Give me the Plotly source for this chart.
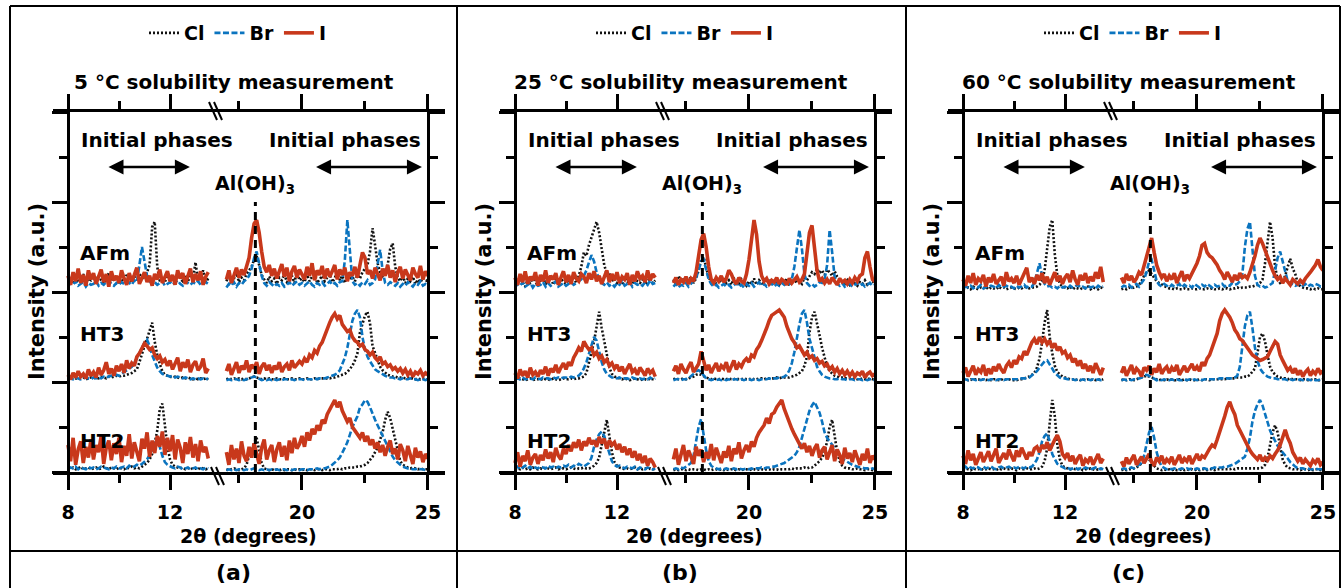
import numpy as np
import plotly.graph_objects as go

W, H = 1343, 588

# scan grids (2θ, degrees) for the two halves of the broken axis
two_theta_low = np.round(np.arange(8.0, 13.55, 0.1), 1)
two_theta_high = np.round(np.arange(17.0, 25.05, 0.1), 1)

panel_titles = ["5 °C solubility measurement", "25 °C solubility measurement", "60 °C solubility measurement"]
panel_letters = ["(a)", "(b)", "(c)"]
phases = ["AFm", "HT3", "HT2"]
phase_offsets = [2, 1, 0]
anions = ["Cl", "Br", "I"]

# ---------------- 5 °C ----------------
a_afm_cl_low = [12, 16, 9, 18, 11, 14, 20, 10, 15, 13, 17, 11, 19, 13, 9, 16, 21, 12, 14, 18,
                10, 15, 12, 19, 14, 11, 17, 13, 20, 16, 14, 22, 30, 72, 78, 28, 12, 16, 11, 19,
                13, 17, 10, 22, 15, 12, 18, 11, 20, 14, 33, 12, 16, 24, 11, 15]
a_afm_br_low = [6, 10, 8, 12, 7, 9, 11, 6, 10, 8, 9, 12, 7, 10, 8, 11, 13, 9, 7, 10,
                8, 11, 9, 12, 10, 8, 13, 11, 30, 50, 34, 18, 12, 9, 11, 8, 10, 12, 7, 9,
                11, 8, 10, 13, 9, 7, 12, 10, 8, 11, 9, 12, 8, 10, 11, 9]
a_afm_i_low = [18, 8, 22, 12, 26, 10, 19, 7, 24, 14, 21, 9, 17, 25, 11, 20, 6, 23, 13, 18,
               10, 24, 15, 8, 21, 12, 19, 27, 9, 16, 22, 11, 18, 7, 20, 14, 25, 10, 17, 23,
               12, 19, 8, 24, 15, 21, 9, 18, 26, 11, 20, 13, 23, 8, 17, 22]
a_afm_cl_high = [12, 18, 9, 15, 21, 11, 16, 13, 20, 24, 28, 36, 40, 30, 19, 14, 10, 17, 12, 15,
                 9, 16, 13, 20, 11, 14, 18, 10, 24, 13, 15, 11, 19, 12, 17, 22, 10, 14, 18, 12,
                 16, 20, 11, 15, 24, 13, 18, 10, 21, 14, 17, 12, 19, 15, 22, 26, 30, 45, 71, 52,
                 32, 22, 18, 24, 30, 48, 54, 28, 16, 12, 18, 10, 15, 12, 17, 9, 14, 11, 16, 13, 12]
a_afm_br_high = [5, 9, 7, 11, 6, 10, 8, 12, 14, 18, 26, 38, 45, 32, 18, 10, 7, 11, 8, 6,
                 9, 7, 10, 6, 8, 11, 7, 9, 12, 8, 10, 7, 9, 12, 8, 6, 10, 8, 11, 7,
                 9, 12, 8, 10, 7, 11, 12, 35, 80, 45, 12, 8, 10, 7, 11, 9, 13, 8, 10, 14,
                 30, 47, 24, 10, 8, 11, 9, 7, 10, 6, 9, 7, 11, 8, 6, 10, 8, 12, 7, 9, 8]
a_afm_i_high = [14, 24, 10, 20, 27, 16, 25, 19, 30, 38, 60, 76, 80, 66, 45, 28, 22, 30, 18, 26,
                15, 24, 31, 17, 27, 12, 23, 29, 16, 25, 20, 14, 28, 18, 32, 13, 24, 19, 29, 15,
                26, 17, 23, 30, 14, 25, 19, 27, 12, 22, 18, 28, 16, 30, 44, 38, 20, 24, 15, 27,
                21, 13, 26, 18, 30, 16, 24, 11, 22, 28, 15, 25, 19, 13, 27, 20, 16, 29, 14, 23, 18]

a_ht3_cl_low = [4, 3, 5, 4, 3, 4, 5, 3, 4, 5, 4, 5, 4, 6, 5, 4, 6, 5, 6, 7,
                6, 7, 7, 8, 9, 10, 12, 14, 22, 32, 40, 48, 58, 66, 45, 30, 20, 12, 8, 7,
                6, 5, 6, 5, 4, 5, 4, 5, 4, 3, 4, 3, 4, 3, 4, 3]
a_ht3_br_low = [3, 4, 3, 5, 4, 3, 4, 5, 4, 3, 5, 4, 5, 4, 6, 5, 6, 7, 6, 8,
                7, 9, 10, 12, 14, 17, 21, 26, 32, 38, 44, 47, 40, 30, 22, 16, 12, 9, 8, 7,
                6, 7, 5, 6, 5, 4, 5, 4, 3, 4, 3, 4, 3, 4, 3, 4]
a_ht3_i_low = [8, 3, 10, 5, 12, 6, 9, 4, 14, 7, 11, 5, 16, 8, 13, 22, 9, 15, 7, 18,
               12, 20, 10, 24, 15, 21, 18, 28, 32, 38, 43, 40, 36, 38, 30, 26, 29, 22, 25, 18,
               24, 14, 20, 27, 12, 22, 16, 25, 11, 19, 23, 13, 17, 26, 10, 15]
a_ht3_cl_high = [3, 4, 3, 4, 3, 4, 3, 4, 3, 4, 5, 6, 5, 4, 3, 4, 3, 4, 3, 3,
                 4, 3, 3, 4, 3, 3, 4, 3, 3, 4, 3, 3, 4, 3, 3, 4, 3, 4, 4, 4,
                 4, 4, 5, 5, 6, 7, 8, 9, 11, 14, 18, 24, 32, 55, 66, 74, 78, 65, 40, 33,
                 26, 17, 13, 10, 8, 7, 6, 6, 5, 5, 5, 4, 5, 4, 4, 3, 4, 3, 4, 3, 3]
a_ht3_br_high = [2, 3, 2, 3, 3, 2, 3, 2, 3, 4, 5, 6, 5, 3, 2, 3, 2, 3, 2, 3,
                 2, 3, 2, 3, 3, 2, 3, 2, 3, 3, 3, 2, 3, 3, 3, 4, 3, 4, 4, 4,
                 5, 6, 7, 8, 10, 13, 20, 27, 38, 55, 68, 76, 80, 72, 50, 36, 28, 23, 18, 14,
                 12, 10, 8, 7, 6, 5, 5, 4, 4, 3, 4, 3, 3, 4, 3, 3, 2, 3, 3, 2, 3]
a_ht3_i_high = [12, 20, 8, 16, 22, 10, 18, 14, 24, 11, 19, 15, 22, 9, 17, 21, 13, 19, 10, 18,
                14, 22, 11, 17, 20, 13, 24, 16, 19, 23, 20, 26, 22, 30, 27, 35, 32, 40, 44, 52,
                58, 66, 72, 76, 70, 74, 64, 60, 56, 58, 50, 46, 44, 40, 42, 36, 34, 30, 33, 27,
                24, 28, 20, 22, 17, 19, 14, 16, 12, 15, 10, 14, 8, 12, 6, 11, 9, 13, 7, 10, 8]

a_ht2_cl_low = [4, 3, 5, 3, 4, 6, 3, 4, 5, 3, 4, 5, 3, 4, 6, 4, 3, 5, 4, 3,
                5, 4, 3, 5, 4, 6, 4, 5, 4, 6, 8, 10, 14, 20, 32, 46, 70, 76, 52, 28,
                14, 8, 6, 5, 4, 5, 3, 4, 5, 3, 4, 3, 5, 4, 3, 4]
a_ht2_br_low = [3, 5, 4, 6, 3, 5, 4, 3, 6, 4, 5, 3, 4, 6, 5, 4, 3, 5, 4, 6,
                4, 5, 6, 4, 7, 5, 6, 8, 7, 9, 11, 14, 19, 26, 32, 35, 28, 18, 11, 8,
                6, 5, 4, 6, 5, 3, 4, 5, 3, 4, 5, 3, 4, 3, 5, 4]
a_ht2_i_low = [30, 12, 38, 8, 25, 34, 10, 28, 16, 36, 14, 30, 22, 40, 9, 27, 35, 13, 32, 20,
               38, 11, 29, 18, 42, 15, 33, 24, 12, 37, 26, 44, 17, 35, 21, 40, 28, 45, 19, 38,
               23, 41, 14, 36, 27, 10, 33, 20, 39, 16, 31, 12, 35, 22, 28, 15]
a_ht2_cl_high = [3, 2, 3, 4, 3, 2, 3, 4, 8, 18, 22, 32, 38, 24, 10, 4, 3, 2, 3, 2,
                 3, 2, 3, 2, 3, 3, 2, 3, 2, 3, 2, 3, 2, 3, 3, 2, 3, 3, 2, 3,
                 3, 2, 3, 3, 3, 4, 3, 4, 4, 5, 5, 5, 6, 6, 7, 8, 10, 13, 17, 22,
                 27, 36, 44, 58, 67, 60, 48, 35, 22, 12, 8, 6, 5, 4, 5, 4, 3, 4, 3, 3, 3]
a_ht2_br_high = [2, 3, 2, 3, 2, 3, 3, 2, 3, 2, 3, 4, 3, 2, 3, 2, 3, 2, 3, 2,
                 3, 2, 3, 3, 2, 3, 2, 3, 3, 2, 3, 3, 2, 3, 3, 3, 4, 3, 4, 4,
                 5, 6, 8, 10, 13, 16, 21, 27, 33, 42, 50, 56, 62, 72, 75, 80, 78, 72, 64, 58,
                 52, 46, 40, 34, 28, 22, 17, 13, 10, 8, 6, 5, 4, 4, 3, 3, 4, 3, 3, 2, 3]
a_ht2_i_high = [22, 8, 30, 14, 26, 10, 34, 18, 12, 28, 16, 32, 20, 9, 27, 36, 14, 24, 30, 11,
                25, 33, 17, 29, 13, 35, 21, 38, 26, 31, 40, 28, 44, 35, 48, 42, 52, 46, 58, 54,
                64, 70, 76, 80, 72, 78, 68, 62, 56, 60, 50, 46, 42, 38, 44, 34, 40, 30, 36, 26,
                33, 22, 30, 18, 28, 35, 20, 26, 14, 31, 24, 12, 29, 18, 9, 27, 16, 23, 11, 20, 15]

# ---------------- 25 °C ----------------
b_afm_cl_low = [12, 8, 15, 10, 6, 14, 9, 17, 11, 7, 13, 16, 9, 12, 18, 8, 14, 10, 15, 11,
                9, 14, 12, 17, 10, 18, 28, 44, 40, 52, 60, 69, 78, 66, 46, 30, 20, 22, 12, 15,
                10, 14, 8, 16, 11, 13, 9, 15, 12, 10, 14, 8, 12, 16, 10, 13]
b_afm_br_low = [5, 9, 7, 11, 6, 8, 10, 5, 9, 7, 8, 11, 6, 10, 7, 9, 12, 6, 8, 10,
                7, 9, 11, 8, 10, 12, 14, 18, 24, 33, 41, 34, 22, 14, 10, 8, 11, 7, 9, 6,
                10, 8, 12, 7, 9, 11, 6, 10, 8, 9, 7, 11, 8, 13, 9, 10]
b_afm_i_low = [16, 8, 20, 11, 23, 9, 17, 13, 22, 7, 19, 12, 24, 10, 18, 14, 21, 8, 16, 23,
               11, 19, 9, 22, 15, 12, 20, 17, 10, 21, 14, 23, 12, 18, 9, 16, 24, 11, 20, 13,
               22, 10, 17, 14, 21, 8, 19, 12, 23, 15, 18, 11, 24, 13, 20, 16]
b_afm_cl_high = [14, 8, 18, 11, 16, 9, 13, 17, 10, 15, 24, 36, 39, 28, 16, 12, 15, 9, 14, 11,
                 16, 10, 13, 8, 15, 12, 9, 14, 11, 7, 12, 9, 15, 8, 13, 10, 7, 11, 14, 9,
                 10, 13, 8, 12, 9, 15, 7, 11, 14, 10, 12, 9, 16, 13, 18, 22, 20, 26, 21, 24,
                 19, 25, 22, 18, 23, 17, 14, 12, 9, 13, 8, 12, 10, 7, 11, 9, 13, 8, 10, 12, 9]
b_afm_br_high = [6, 9, 5, 8, 7, 10, 6, 9, 12, 16, 24, 34, 36, 26, 14, 9, 6, 8, 5, 7,
                 9, 6, 8, 5, 7, 10, 6, 8, 5, 9, 7, 10, 6, 8, 11, 7, 9, 6, 8, 10,
                 6, 9, 7, 10, 8, 11, 9, 14, 28, 52, 69, 48, 20, 10, 7, 9, 6, 8, 11, 10,
                 14, 30, 69, 44, 16, 9, 7, 10, 6, 8, 9, 6, 8, 10, 7, 9, 6, 8, 10, 7, 8]
b_afm_i_high = [10, 16, 8, 14, 11, 17, 9, 15, 12, 22, 40, 58, 65, 50, 28, 14, 10, 16, 12, 18,
                11, 15, 24, 20, 13, 9, 16, 12, 10, 20, 36, 60, 80, 64, 34, 18, 12, 15, 9, 13,
                11, 16, 9, 14, 12, 8, 15, 10, 13, 17, 11, 14, 20, 42, 66, 74, 44, 24, 12, 15,
                10, 14, 9, 16, 12, 8, 15, 11, 13, 9, 14, 10, 16, 12, 18, 20, 38, 45, 28, 14, 12]

b_ht3_cl_low = [3, 2, 4, 3, 2, 3, 4, 2, 3, 3, 2, 4, 3, 3, 2, 4, 3, 2, 3, 4,
                3, 3, 4, 3, 4, 4, 5, 6, 10, 20, 33, 45, 60, 78, 60, 44, 28, 16, 9, 6,
                5, 4, 3, 4, 3, 2, 3, 4, 3, 2, 3, 3, 2, 4, 3, 3]
b_ht3_br_low = [3, 4, 3, 5, 3, 4, 4, 3, 5, 4, 3, 5, 4, 4, 3, 5, 4, 5, 4, 5,
                5, 4, 6, 5, 6, 7, 10, 15, 22, 32, 42, 50, 46, 34, 22, 14, 9, 7, 5, 5,
                4, 5, 3, 4, 4, 3, 5, 4, 3, 4, 3, 4, 3, 5, 3, 4]
b_ht3_i_low = [10, 4, 14, 7, 12, 5, 16, 8, 11, 6, 13, 9, 17, 7, 15, 11, 19, 10, 16, 21,
               14, 22, 18, 27, 32, 38, 34, 45, 40, 36, 38, 30, 33, 26, 29, 22, 25, 18, 21, 15,
               19, 12, 17, 9, 15, 20, 11, 14, 8, 16, 12, 7, 15, 10, 13, 6]
b_ht3_cl_high = [3, 4, 3, 3, 4, 3, 4, 5, 6, 8, 9, 8, 6, 5, 4, 3, 4, 3, 3, 4,
                 3, 3, 4, 3, 3, 4, 3, 3, 4, 3, 3, 4, 3, 3, 4, 4, 3, 4, 4, 4,
                 4, 5, 4, 5, 5, 5, 5, 6, 7, 8, 10, 12, 18, 28, 55, 72, 78, 66, 52, 38,
                 26, 17, 12, 9, 7, 6, 5, 5, 4, 4, 4, 3, 4, 3, 3, 4, 3, 3, 4, 3, 3]
b_ht3_br_high = [2, 3, 3, 2, 3, 3, 4, 6, 9, 12, 13, 11, 7, 4, 3, 2, 3, 2, 3, 2,
                 3, 2, 3, 2, 3, 3, 2, 3, 2, 3, 3, 2, 3, 3, 2, 3, 3, 3, 4, 3,
                 4, 4, 5, 5, 6, 8, 13, 21, 33, 50, 64, 76, 80, 66, 48, 38, 26, 17, 12, 8,
                 6, 5, 4, 4, 3, 3, 4, 3, 3, 2, 3, 3, 2, 3, 3, 2, 3, 2, 3, 3, 2]
b_ht3_i_high = [12, 18, 9, 20, 14, 10, 17, 22, 11, 16, 20, 34, 24, 13, 19, 10, 16, 21, 12, 18,
                15, 22, 11, 19, 24, 14, 20, 17, 23, 26, 22, 30, 28, 36, 40, 46, 52, 60, 68, 74,
                76, 78, 80, 76, 72, 62, 54, 48, 44, 38, 40, 34, 30, 33, 27, 29, 24, 26, 21, 23,
                18, 20, 14, 17, 11, 15, 9, 13, 8, 12, 7, 11, 6, 10, 8, 12, 5, 9, 11, 7, 9]

b_ht2_cl_low = [3, 4, 3, 5, 3, 4, 3, 5, 4, 3, 4, 3, 5, 4, 3, 4, 5, 3, 4, 4,
                3, 4, 5, 4, 3, 4, 4, 5, 4, 4, 5, 7, 10, 16, 30, 46, 58, 40, 22, 11,
                7, 5, 4, 3, 4, 3, 4, 5, 3, 4, 3, 4, 3, 4, 3, 3]
b_ht2_br_low = [4, 6, 3, 5, 7, 4, 6, 3, 5, 4, 6, 5, 4, 7, 5, 6, 4, 6, 5, 7,
                6, 8, 5, 7, 6, 9, 7, 6, 8, 10, 16, 28, 36, 42, 45, 40, 30, 20, 12, 8,
                6, 7, 5, 4, 6, 5, 4, 6, 3, 5, 4, 3, 5, 4, 3, 4]
b_ht2_i_low = [10, 22, 6, 18, 12, 24, 8, 16, 20, 9, 19, 13, 25, 15, 22, 11, 27, 18, 14, 26,
               20, 30, 23, 33, 27, 36, 24, 34, 29, 38, 31, 35, 28, 39, 32, 37, 26, 35, 30, 33,
               25, 31, 22, 28, 19, 26, 16, 23, 13, 20, 10, 18, 7, 15, 11, 5]
b_ht2_cl_high = [2, 3, 2, 3, 3, 2, 3, 2, 3, 3, 2, 3, 3, 2, 3, 2, 3, 3, 2, 3,
                 2, 3, 2, 3, 3, 2, 3, 2, 3, 3, 2, 3, 3, 2, 3, 3, 2, 3, 3, 2,
                 3, 3, 2, 3, 3, 3, 3, 4, 3, 4, 4, 4, 5, 4, 5, 5, 7, 9, 12, 16,
                 22, 34, 50, 58, 40, 22, 12, 7, 5, 4, 4, 3, 3, 4, 3, 3, 2, 3, 3, 2, 3]
b_ht2_br_high = [3, 4, 3, 5, 4, 6, 7, 10, 18, 34, 50, 59, 40, 24, 12, 7, 5, 4, 3, 4,
                 3, 4, 3, 3, 4, 3, 4, 3, 3, 4, 3, 4, 3, 4, 4, 5, 4, 5, 5, 6,
                 6, 7, 8, 9, 10, 12, 14, 16, 18, 22, 28, 38, 48, 60, 68, 74, 78, 72, 66, 56,
                 44, 38, 34, 30, 26, 22, 18, 15, 13, 11, 10, 8, 7, 6, 5, 5, 4, 4, 3, 4, 3]
b_ht2_i_high = [14, 26, 8, 20, 30, 12, 24, 17, 9, 28, 18, 25, 11, 22, 15, 31, 13, 27, 19, 10,
                23, 16, 29, 12, 26, 20, 33, 15, 24, 30, 22, 34, 28, 38, 44, 48, 52, 60, 54, 64,
                66, 72, 76, 80, 70, 62, 54, 48, 42, 36, 30, 26, 32, 22, 29, 18, 26, 31, 16, 24,
                28, 14, 22, 30, 12, 25, 19, 9, 27, 15, 21, 11, 24, 17, 8, 20, 13, 26, 10, 18, 14]

# ---------------- 60 °C ----------------
c_afm_cl_low = [3, 4, 5, 3, 6, 4, 3, 5, 4, 6, 3, 5, 4, 3, 6, 4, 5, 3, 4, 5,
                4, 3, 5, 4, 6, 5, 4, 5, 5, 6, 8, 12, 24, 48, 72, 80, 42, 18, 9, 6,
                5, 4, 6, 3, 5, 4, 3, 5, 4, 6, 3, 5, 4, 3, 5, 4]
c_afm_br_low = [4, 6, 5, 7, 4, 6, 5, 8, 4, 6, 5, 7, 6, 4, 8, 5, 6, 7, 5, 6,
                4, 7, 5, 6, 8, 5, 7, 6, 10, 20, 32, 18, 9, 6, 7, 5, 6, 4, 7, 5,
                6, 4, 7, 5, 6, 8, 5, 6, 4, 7, 5, 6, 4, 7, 5, 6]
c_afm_i_low = [14, 7, 18, 10, 21, 8, 15, 12, 19, 6, 16, 11, 20, 9, 13, 17, 7, 22, 12, 15,
               10, 18, 8, 14, 20, 27, 11, 16, 9, 19, 13, 21, 10, 17, 8, 15, 22, 12, 18, 9,
               16, 20, 11, 24, 14, 8, 19, 13, 21, 10, 17, 12, 22, 15, 28, 11]
c_afm_cl_high = [3, 4, 3, 5, 4, 5, 6, 8, 12, 18, 22, 24, 20, 15, 12, 10, 8, 7, 5, 4,
                 4, 3, 4, 3, 3, 4, 3, 3, 4, 3, 3, 4, 3, 3, 4, 3, 4, 3, 3, 4,
                 3, 4, 4, 3, 4, 4, 5, 4, 5, 5, 5, 6, 6, 7, 8, 10, 14, 32, 58, 78,
                 60, 28, 14, 10, 12, 18, 28, 37, 26, 20, 10, 6, 5, 4, 4, 3, 4, 3, 4, 3, 3]
c_afm_br_high = [5, 7, 6, 8, 5, 7, 9, 6, 10, 14, 22, 34, 36, 22, 12, 8, 6, 9, 7, 5,
                 8, 6, 7, 9, 5, 8, 6, 7, 5, 9, 7, 5, 8, 6, 9, 7, 5, 8, 6, 7,
                 9, 6, 8, 7, 10, 8, 9, 12, 20, 50, 70, 78, 44, 18, 8, 6, 7, 5, 6, 8,
                 10, 24, 38, 45, 34, 20, 12, 8, 9, 7, 8, 10, 7, 9, 6, 8, 7, 9, 8, 6, 7]
c_afm_i_high = [16, 10, 20, 13, 18, 11, 15, 22, 19, 30, 38, 52, 60, 44, 30, 22, 16, 20, 12, 18,
                14, 21, 10, 17, 23, 12, 19, 15, 20, 26, 32, 40, 52, 54, 44, 40, 38, 34, 30, 24,
                20, 14, 22, 17, 11, 19, 13, 21, 16, 18, 15, 22, 30, 40, 52, 60, 54, 46, 38, 30,
                24, 18, 14, 17, 10, 15, 12, 8, 14, 11, 9, 13, 10, 15, 18, 22, 26, 30, 36, 28, 24]

c_ht3_cl_low = [2, 3, 2, 3, 2, 3, 3, 2, 3, 2, 3, 2, 3, 3, 2, 3, 2, 3, 3, 2,
                2, 2, 3, 3, 4, 5, 6, 8, 10, 16, 26, 44, 66, 80, 50, 32, 18, 11, 8, 6,
                5, 4, 3, 3, 2, 3, 2, 3, 2, 3, 2, 3, 2, 3, 2, 3]
c_ht3_br_low = [2, 3, 2, 3, 3, 2, 3, 2, 3, 3, 2, 3, 3, 2, 3, 3, 2, 3, 3, 3,
                3, 3, 3, 4, 4, 4, 5, 7, 9, 12, 16, 20, 23, 24, 20, 15, 10, 7, 5, 4,
                4, 3, 3, 3, 2, 3, 2, 3, 2, 3, 2, 3, 2, 3, 2, 2]
c_ht3_i_low = [10, 16, 6, 13, 18, 8, 14, 11, 19, 7, 15, 9, 17, 12, 20, 14, 10, 18, 22, 16,
               24, 20, 28, 26, 34, 30, 38, 44, 48, 42, 50, 44, 48, 42, 46, 38, 43, 35, 39, 32,
               34, 27, 30, 22, 26, 18, 24, 15, 20, 12, 18, 10, 21, 14, 8, 16]
c_ht3_cl_high = [2, 3, 2, 3, 3, 2, 3, 4, 5, 6, 7, 6, 5, 4, 3, 2, 3, 2, 3, 2,
                 3, 2, 2, 3, 2, 3, 2, 3, 2, 2, 2, 3, 2, 3, 3, 2, 3, 3, 3, 3,
                 3, 3, 4, 4, 4, 4, 5, 5, 5, 6, 6, 8, 11, 15, 32, 50, 54, 45, 30, 17,
                 11, 8, 6, 5, 4, 4, 3, 4, 3, 3, 3, 2, 3, 3, 2, 3, 2, 3, 2, 2, 3]
c_ht3_br_high = [2, 3, 2, 3, 2, 3, 3, 4, 5, 7, 8, 7, 5, 3, 2, 3, 2, 3, 2, 2,
                 3, 2, 3, 2, 2, 3, 2, 3, 2, 3, 2, 3, 2, 3, 3, 3, 3, 3, 3, 4,
                 4, 4, 4, 4, 4, 5, 7, 17, 38, 62, 74, 78, 60, 38, 24, 15, 11, 8, 6, 5,
                 4, 4, 3, 3, 3, 3, 2, 3, 2, 3, 2, 3, 2, 2, 3, 2, 3, 2, 2, 3, 2]
c_ht3_i_high = [10, 17, 7, 14, 19, 9, 15, 12, 6, 16, 13, 18, 8, 15, 11, 20, 9, 14, 17, 10,
                16, 12, 19, 8, 14, 18, 11, 15, 20, 13, 17, 12, 22, 18, 26, 30, 38, 46, 54, 68,
                76, 80, 76, 72, 66, 58, 54, 48, 46, 42, 37, 34, 30, 28, 26, 24, 25, 27, 28, 34,
                40, 45, 42, 30, 24, 18, 13, 16, 10, 15, 8, 13, 6, 11, 14, 7, 12, 9, 15, 10, 12]

c_ht2_cl_low = [3, 4, 3, 2, 4, 3, 3, 4, 2, 3, 4, 3, 3, 2, 4, 3, 4, 3, 3, 4,
                3, 2, 4, 3, 3, 4, 3, 3, 4, 3, 4, 6, 12, 26, 54, 80, 62, 30, 14, 7,
                5, 4, 3, 4, 3, 3, 4, 2, 3, 3, 4, 3, 2, 3, 3, 4]
c_ht2_br_low = [4, 6, 3, 5, 4, 6, 5, 3, 6, 4, 5, 6, 4, 3, 5, 6, 4, 5, 6, 4,
                5, 4, 6, 5, 4, 6, 5, 6, 9, 14, 22, 34, 40, 43, 34, 20, 14, 9, 7, 5,
                4, 5, 3, 4, 5, 3, 4, 3, 5, 4, 3, 4, 5, 3, 4, 3]
c_ht2_i_low = [18, 9, 24, 13, 20, 8, 15, 22, 11, 17, 23, 12, 19, 26, 10, 16, 21, 14, 25, 18,
               12, 24, 17, 27, 20, 14, 22, 18, 26, 28, 22, 30, 26, 33, 24, 31, 36, 41, 34, 20,
               16, 21, 12, 18, 9, 15, 19, 7, 14, 11, 17, 8, 13, 20, 10, 15]
c_ht2_cl_high = [2, 3, 2, 3, 3, 4, 5, 7, 10, 13, 15, 14, 10, 7, 4, 3, 2, 3, 2, 3,
                 2, 3, 2, 2, 3, 2, 3, 2, 3, 2, 3, 2, 3, 3, 2, 3, 3, 2, 3, 3,
                 3, 3, 3, 3, 4, 3, 4, 4, 4, 4, 4, 4, 4, 4, 4, 4, 5, 8, 16, 30,
                 44, 52, 44, 28, 14, 8, 5, 4, 3, 3, 3, 2, 3, 3, 2, 3, 2, 3, 3, 2, 3]
c_ht2_br_high = [3, 4, 3, 4, 5, 4, 6, 7, 10, 18, 32, 44, 50, 38, 22, 12, 6, 4, 3, 4,
                 3, 4, 3, 3, 4, 3, 4, 3, 4, 3, 4, 3, 4, 4, 3, 4, 4, 5, 4, 5,
                 5, 6, 6, 7, 8, 9, 11, 13, 15, 17, 26, 38, 56, 68, 75, 80, 74, 64, 55, 46,
                 40, 34, 29, 25, 22, 19, 15, 11, 8, 6, 4, 4, 4, 3, 4, 3, 3, 4, 3, 3, 3]
c_ht2_i_high = [12, 6, 16, 9, 14, 19, 8, 13, 17, 10, 15, 20, 11, 7, 16, 12, 18, 9, 14, 11,
                17, 8, 13, 19, 10, 15, 12, 18, 9, 14, 20, 13, 18, 16, 22, 26, 30, 28, 36, 44,
                54, 62, 72, 78, 70, 64, 52, 46, 40, 34, 30, 24, 20, 17, 14, 19, 12, 16, 13, 18,
                15, 20, 24, 30, 40, 47, 38, 32, 22, 17, 12, 16, 9, 14, 11, 7, 13, 10, 15, 8, 11]

patterns = [
    {  # 5 °C
        "AFm": {"Cl": (a_afm_cl_low, a_afm_cl_high), "Br": (a_afm_br_low, a_afm_br_high), "I": (a_afm_i_low, a_afm_i_high)},
        "HT3": {"Cl": (a_ht3_cl_low, a_ht3_cl_high), "Br": (a_ht3_br_low, a_ht3_br_high), "I": (a_ht3_i_low, a_ht3_i_high)},
        "HT2": {"Cl": (a_ht2_cl_low, a_ht2_cl_high), "Br": (a_ht2_br_low, a_ht2_br_high), "I": (a_ht2_i_low, a_ht2_i_high)},
    },
    {  # 25 °C
        "AFm": {"Cl": (b_afm_cl_low, b_afm_cl_high), "Br": (b_afm_br_low, b_afm_br_high), "I": (b_afm_i_low, b_afm_i_high)},
        "HT3": {"Cl": (b_ht3_cl_low, b_ht3_cl_high), "Br": (b_ht3_br_low, b_ht3_br_high), "I": (b_ht3_i_low, b_ht3_i_high)},
        "HT2": {"Cl": (b_ht2_cl_low, b_ht2_cl_high), "Br": (b_ht2_br_low, b_ht2_br_high), "I": (b_ht2_i_low, b_ht2_i_high)},
    },
    {  # 60 °C
        "AFm": {"Cl": (c_afm_cl_low, c_afm_cl_high), "Br": (c_afm_br_low, c_afm_br_high), "I": (c_afm_i_low, c_afm_i_high)},
        "HT3": {"Cl": (c_ht3_cl_low, c_ht3_cl_high), "Br": (c_ht3_br_low, c_ht3_br_high), "I": (c_ht3_i_low, c_ht3_i_high)},
        "HT2": {"Cl": (c_ht2_cl_low, c_ht2_cl_high), "Br": (c_ht2_br_low, c_ht2_br_high), "I": (c_ht2_i_low, c_ht2_i_high)},
    },
]

gibbsite_2theta = 18.15

line_style = {
    "Cl": dict(color="#111111", width=2.6, dash="2px,2px"),
    "Br": dict(color="#0B74BF", width=2.6, dash="6px,2.5px"),
    "I": dict(color="#C8381B", width=3.6),
}

FONT = "DejaVu Sans"


def fx(px):
    return px / W


def fy(py):
    return 1 - py / H


def bold(size):
    return dict(family=FONT, size=size, color="black", weight="bold")


def label(text, x, y, size, xref="paper", yref="paper", **kw):
    base = dict(text=text, xref=xref, yref=yref, x=x, y=y, showarrow=False, font=bold(size),
                xanchor="center", yanchor="middle")
    base.update(kw)
    return base


fig = go.Figure()
shapes, annotations = [], []
panel_dx = [0, 447, 895]
legend_names = ["legend", "legend2", "legend3"]

for p, dx in enumerate(panel_dx):
    nl, nr = 2 * p + 1, 2 * p + 2
    xl_ref, xr_ref = f"x{nl}" if nl > 1 else "x", f"x{nr}"
    yl_ref, yr_ref = f"y{nl}" if nl > 1 else "y", f"y{nr}"
    xl_key, xr_key = ("xaxis" if nl == 1 else f"xaxis{nl}"), f"xaxis{nr}"
    yl_key, yr_key = ("yaxis" if nl == 1 else f"yaxis{nl}"), f"yaxis{nr}"

    for phase, offset in zip(phases, phase_offsets):
        for anion in anions:
            low, high = patterns[p][phase][anion]
            if len(low) != len(two_theta_low) or len(high) != len(two_theta_high):
                raise ValueError(f"length mismatch {p} {phase} {anion}: {len(low)} {len(high)}")
            first = phase == "AFm"
            fig.add_trace(go.Scatter(
                x=two_theta_low, y=offset + np.array(low) / 100.0,
                xaxis=xl_ref, yaxis=yl_ref, mode="lines", line=line_style[anion],
                name=anion, legend=legend_names[p], showlegend=first, hoverinfo="skip"))
            fig.add_trace(go.Scatter(
                x=two_theta_high, y=offset + np.array(high) / 100.0,
                xaxis=xr_ref, yaxis=yl_ref, mode="lines", line=line_style[anion],
                name=anion, legend=legend_names[p], showlegend=False, hoverinfo="skip"))
    # carrier for the right-hand intensity axis
    fig.add_trace(go.Scatter(x=[], y=[], xaxis=xr_ref, yaxis=yr_ref, showlegend=False, hoverinfo="skip"))

    common_x = dict(showline=True, linecolor="black", linewidth=3, mirror="ticks", ticks="outside",
                    ticklen=15, tickwidth=3, tickcolor="black", showgrid=False, zeroline=False,
                    tickfont=bold(19), ticklabelstandoff=6, anchor=yl_ref)
    fig.layout[xl_key] = dict(common_x, domain=[fx(53 + dx), fx(218 + dx)], range=[7.412, 13.882],
                              tickvals=[8, 12], ticktext=["8", "12"],
                              minor=dict(tickvals=[10], ticklen=8, tickwidth=3, ticks="outside", tickcolor="black"))
    fig.layout[xr_key] = dict(common_x, domain=[fx(218 + dx), fx(445 + dx)], range=[16.667, 25.675],
                              tickvals=[20, 25], ticktext=["20", "25"],
                              minor=dict(tickvals=[17.5, 22.5], ticklen=8, tickwidth=3, ticks="outside", tickcolor="black"))
    common_y = dict(range=[0, 4], showline=True, linecolor="black", linewidth=3, ticks="outside",
                    ticklen=15, tickwidth=3, tickcolor="black", tickvals=[0, 1, 2, 3, 4],
                    showticklabels=False, showgrid=False, zeroline=False, anchor="free",
                    minor=dict(tickvals=[0.5, 1.5, 2.5, 3.5], ticklen=8, tickwidth=3, ticks="outside", tickcolor="black"))
    fig.layout[yl_key] = dict(common_y, domain=[fy(472), fy(112)], position=fx(68 + dx))
    fig.layout[yr_key] = dict(common_y, overlaying=yl_ref, side="right", position=fx(428 + dx))

    fig.layout[legend_names[p]] = dict(x=fx(238 + dx), y=fy(33), xanchor="center", yanchor="middle",
                                       orientation="h", font=bold(19), bgcolor="rgba(0,0,0,0)",
                                       itemwidth=30, tracegroupgap=0)

    # gibbsite reference line
    shapes.append(dict(type="line", xref=xr_ref, yref=yl_ref, x0=gibbsite_2theta, x1=gibbsite_2theta,
                       y0=0, y1=3.0, line=dict(color="black", width=3, dash="8px,6px")))
    # axis-break marks
    for cy, cx in [(111, 216 + dx), (476, 218 + dx)]:
        for sx in (-3, 2):
            shapes.append(dict(type="line", xref="paper", yref="paper",
                               x0=fx(cx + sx - 4), y0=fy(cy - 9), x1=fx(cx + sx + 4), y1=fy(cy + 9),
                               line=dict(color="black", width=2)))

    annotations += [
        label(panel_titles[p], fx(234 + dx), fy(82), 20),
        label("Initial phases", 11.49, 3.69, 20, xref=xl_ref, yref=yl_ref),
        label("Initial phases", 21.7, 3.69, 20, xref=xr_ref, yref=yl_ref),
        dict(text="", xref=xl_ref, yref=yl_ref, axref=xl_ref, ayref=yl_ref, x=12.78, y=3.39, ax=9.53, ay=3.39,
             showarrow=True, arrowside="end+start", arrowhead=2, arrowsize=1.2, arrowwidth=2.5, arrowcolor="black"),
        dict(text="", xref=xr_ref, yref=yl_ref, axref=xr_ref, ayref=yl_ref, x=24.76, y=3.39, ax=20.5, ay=3.39,
             showarrow=True, arrowside="end+start", arrowhead=2, arrowsize=1.2, arrowwidth=2.5, arrowcolor="black"),
        label("Al(OH)<sub>3</sub>", gibbsite_2theta, 3.19, 19, xref=xr_ref, yref=yl_ref),
        label("Intensity (a.u.)", fx(37 + dx), fy(292), 21, textangle=-90),
        label("2θ (degrees)", fx(248 + dx), fy(536), 19),
        label(panel_letters[p], fx(233 + dx), fy(572), 22),
    ]
    for phase, ly in zip(phases, [2.43, 1.53, 0.34]):
        annotations.append(label(phase, 8.4, ly, 20, xref=xl_ref, yref=yl_ref, xanchor="left"))

# table-style frame around the three panels
for vx in (10, 457, 906, 1340):
    shapes.append(dict(type="line", xref="paper", yref="paper", x0=fx(vx), x1=fx(vx), y0=fy(6), y1=0,
                       line=dict(color="black", width=2)))
for hy in (6, 551):
    shapes.append(dict(type="line", xref="paper", yref="paper", x0=fx(10), x1=fx(1340), y0=fy(hy), y1=fy(hy),
                       line=dict(color="black", width=2)))

fig.update_layout(width=W, height=H, margin=dict(l=0, r=0, t=0, b=0),
                  paper_bgcolor="white", plot_bgcolor="white",
                  shapes=shapes, annotations=annotations, showlegend=True)

fig.write_html("out.html")
